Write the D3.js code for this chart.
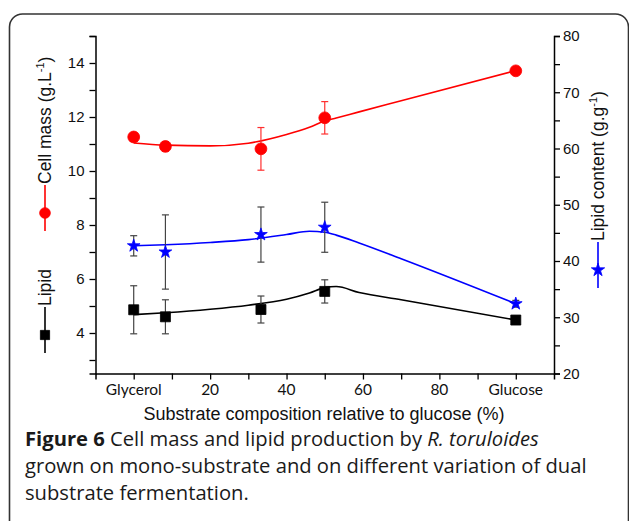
<!DOCTYPE html>
<html>
<head>
<meta charset="utf-8">
<script src="https://cdn.jsdelivr.net/npm/d3@7"></script>
<style>
  html, body { margin: 0; padding: 0; background: #fff; }
  svg { display: block; }
</style>
</head>
<body>
<script>
// ---- data ----
const xValues = [0, 8.3, 33.3, 50, 100];
const cellMass = [11.26, 10.91, 10.82, 11.97, 13.71];
const cellMassErr = [0.1, 0.18, 0.79, 0.6, 0.05];
const lipid = [4.86, 4.6, 4.87, 5.54, 4.48];
const lipidErr = [0.89, 0.63, 0.5, 0.43, 0.05];
const lipidContent = [42.7, 41.6, 44.7, 46.0, 32.4];
const lipidContentErr = [1.8, 6.6, 4.9, 4.45, 0.6];

// fitted (smoothed) curves
const fitX = [0, 8.3, 20, 30, 40, 46, 50, 53, 59, 70, 100];
const cellMassFit = [11.04, 10.96, 10.93, 11.03, 11.35, 11.62, 11.85, 11.96, 12.19, 12.6, 13.72];
const lipidContentFit = [42.7, 42.9, 43.3, 43.8, 44.7, 45.3, 45.1, 44.6, 43.2, 40.4, 32.4];
const lipidFit = [4.68, 4.75, 4.88, 5.03, 5.25, 5.48, 5.68, 5.72, 5.5, 5.23, 4.48];

const xTickValues = [0, 20, 40, 60, 80, 100];
const xTickLabels = ["Glycerol", "20", "40", "60", "80", "Glucose"];
const leftTickValues = [4, 6, 8, 10, 12, 14];
const rightTickValues = [20, 30, 40, 50, 60, 70, 80];

const W = 629, H = 521;
const svg = d3.select("body").append("svg").attr("width", W).attr("height", H);
svg.append("rect").attr("width", W).attr("height", H).attr("fill", "#fff");

// frame
svg.append("rect").attr("x", 9.5).attr("y", 14).attr("width", 619).attr("height", 560)
  .attr("rx", 13).attr("fill", "none").attr("stroke", "#333").attr("stroke-width", 1.6);

const x = d3.scaleLinear().domain([-10, 110]).range([95.5, 554]);
const yL = d3.scaleLinear().domain([2.5, 15]).range([373.5, 36]);
const yR = d3.scaleLinear().domain([20, 80]).range([373.5, 36]);

const axisFont = "'Liberation Sans', Arial, sans-serif";

// x axis
const gx = svg.append("g").attr("transform", `translate(0,${yL.range()[0]})`);
gx.call(d3.axisBottom(x).tickValues(d3.range(-10, 111, 10)).tickSize(6).tickFormat(""));
gx.select(".domain").attr("stroke-width", 1.5);
gx.selectAll(".tick line").attr("stroke-width", 1.3);
gx.selectAll(".tick").filter(d => d === -10 || d === 110).remove();
gx.selectAll(".xlab").data(xTickValues).enter().append("text")
  .attr("x", d => x(d)).attr("y", 21).attr("text-anchor", "middle")
  .attr("font-family", "Lato, 'Open Sans', sans-serif").attr("font-size", 15.5).attr("fill", "#111")
  .text((d, i) => xTickLabels[i]);

// left axis
const gl = svg.append("g").attr("transform", `translate(${x.range()[0]},0)`);
gl.call(d3.axisLeft(yL).tickValues(d3.range(3, 15.01, 1)).tickSize(6)
  .tickFormat(d => leftTickValues.includes(d) ? d : ""));
gl.select(".domain").attr("stroke-width", 1.5);
gl.selectAll(".tick line").attr("stroke-width", 1.3);
gl.selectAll(".tick text").attr("font-family", axisFont).attr("font-size", 15).attr("fill", "#111").attr("x", -11);

// right axis
const gr = svg.append("g").attr("transform", `translate(${x.range()[1]},0)`);
gr.call(d3.axisRight(yR).tickValues(d3.range(20, 80.01, 5)).tickSize(6)
  .tickFormat(d => rightTickValues.includes(d) ? d : ""));
gr.select(".domain").attr("stroke-width", 1.5);
gr.selectAll(".tick line").attr("stroke-width", 1.3);
gr.selectAll(".tick text").attr("font-family", axisFont).attr("font-size", 15).attr("fill", "#111").attr("x", 9);

// x axis title
svg.append("text").attr("x", 324).attr("y", 420).attr("text-anchor", "middle")
  .attr("font-family", axisFont).attr("font-size", 18).attr("fill", "#111")
  .text("Substrate composition relative to glucose (%)");

// series
const series = [
  { vals: cellMass, err: cellMassErr, fit: cellMassFit, y: yL, color: "#ff0000", errColor: "#ff3030", sym: d3.symbolCircle, size: 110 },
  { vals: lipidContent, err: lipidContentErr, fit: lipidContentFit, y: yR, color: "#0000ff", errColor: "#444", sym: d3.symbolStar, size: 50 },
  { vals: lipid, err: lipidErr, fit: lipidFit, y: yL, color: "#000", errColor: "#444", sym: d3.symbolSquare, size: 100 }
];

series.forEach(s => {
  const line = d3.line().x((d, i) => x(fitX[i])).y(d => s.y(d)).curve(d3.curveMonotoneX);
  svg.append("path").attr("d", line(s.fit)).attr("fill", "none").attr("stroke", s.color).attr("stroke-width", 1.6);
});

series.forEach(s => {
  const g = svg.append("g");
  s.vals.forEach((v, i) => {
    const cx = x(xValues[i]);
    const top = s.y(v + s.err[i]), bot = s.y(v - s.err[i]);
    g.append("line").attr("x1", cx).attr("x2", cx).attr("y1", top).attr("y2", bot)
      .attr("stroke", s.errColor).attr("stroke-width", 1.2);
    [top, bot].forEach(yy => g.append("line").attr("x1", cx - 3.5).attr("x2", cx + 3.5).attr("y1", yy).attr("y2", yy)
      .attr("stroke", s.errColor).attr("stroke-width", 1.2));
  });
});

series.forEach(s => {
  svg.append("g").selectAll("path").data(s.vals).enter().append("path")
    .attr("transform", (d, i) => `translate(${x(xValues[i])},${s.y(d)})`)
    .attr("d", d3.symbol().type(s.sym).size(s.size))
    .attr("fill", s.color).attr("stroke", s.color).attr("stroke-width", 0.8);
});

// legends (rotated)
function legend(cx, textStart, label, sup, close, s, markerSize) {
  svg.append("line").attr("x1", cx).attr("x2", cx).attr("y1", textStart).attr("y2", textStart + 46)
    .attr("stroke", s.color).attr("stroke-width", 1.6);
  svg.append("path").attr("transform", `translate(${cx},${textStart + 28})`)
    .attr("d", d3.symbol().type(s.sym).size(markerSize)).attr("fill", s.color).attr("stroke", s.color).attr("stroke-width", 0.8);
  const t = svg.append("text").attr("transform", `translate(${cx + 6},${textStart}) rotate(-90)`)
    .attr("font-family", axisFont).attr("font-size", 17.5).attr("fill", "#111").attr("x", 1);
  t.append("tspan").text(label);
  if (sup) {
    t.append("tspan").attr("font-size", 11).attr("dy", -7).text(sup);
    t.append("tspan").attr("dy", 7).text(close);
  }
}
legend(45, 185, "Cell mass (g.L", "-1", ")", series[0], 90);
legend(45, 307, "Lipid", null, null, series[2], 85);
legend(598, 242, "Lipid content (g.g", "-1", ")", series[1], 55);

// caption
const capFont = "'Open Sans', 'Noto Sans', sans-serif";
const cap = svg.append("g").attr("font-family", capFont).attr("font-size", 20.2).attr("fill", "#1a1a1a");
const l1 = cap.append("text").attr("x", 25).attr("y", 446);
l1.append("tspan").attr("font-weight", "bold").text("Figure 6");
l1.append("tspan").text(" Cell mass and lipid production by ");
l1.append("tspan").attr("font-style", "italic").text("R. toruloides");
cap.append("text").attr("x", 25).attr("y", 473).text("grown on mono-substrate and on different variation of dual");
cap.append("text").attr("x", 25).attr("y", 500).text("substrate fermentation.");
</script>
</body>
</html>
